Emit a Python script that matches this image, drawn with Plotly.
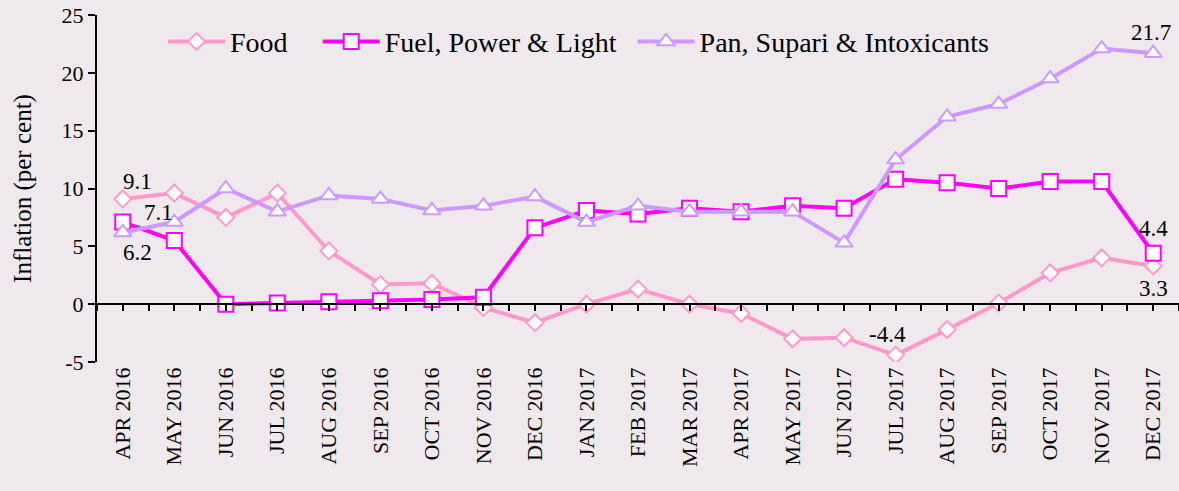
import plotly.graph_objects as go

months = [
    "APR 2016", "MAY 2016", "JUN 2016", "JUL 2016", "AUG 2016", "SEP 2016",
    "OCT 2016", "NOV 2016", "DEC 2016", "JAN 2017", "FEB 2017", "MAR 2017",
    "APR 2017", "MAY 2017", "JUN 2017", "JUL 2017", "AUG 2017", "SEP 2017",
    "OCT 2017", "NOV 2017", "DEC 2017",
]
food = [9.1, 9.6, 7.5, 9.6, 4.6, 1.7, 1.8, -0.3, -1.6, 0.0, 1.3, 0.0,
        -0.8, -3.0, -2.9, -4.4, -2.2, 0.1, 2.7, 4.0, 3.3]
fuel = [7.1, 5.5, 0.0, 0.1, 0.2, 0.3, 0.4, 0.6, 6.6, 8.1, 7.8, 8.3,
        8.0, 8.5, 8.3, 10.8, 10.5, 10.0, 10.6, 10.6, 4.4]
pan = [6.2, 7.1, 10.0, 8.0, 9.4, 9.1, 8.1, 8.5, 9.3, 7.1, 8.5, 8.0,
       8.0, 8.0, 5.3, 12.5, 16.2, 17.3, 19.5, 22.1, 21.7]
y_ticks = [-5, 0, 5, 10, 15, 20, 25]
y_tick_text = ["-5", "0", "5", "10", "15", "20", "25"]

FONT = "Liberation Serif"
BG = "#EFE8EC"

fig = go.Figure()

# one legend per series so each entry can sit where the original puts it
series = [
    ("Food", food, "#FF99CC", "diamond", 13, "legend", 0.061),
    ("Fuel, Power & Light", fuel, "#FF00FF", "square", 15, "legend2", 0.204),
    ("Pan, Supari & Intoxicants", pan, "#CC99FF", "triangle-up", 15, "legend3", 0.495),
]
legend_cfg = {}
for name, vals, color, symbol, size, leg, lx in series:
    fig.add_trace(go.Scatter(
        x=months, y=vals, name=name, mode="lines+markers", legend=leg,
        line=dict(color=color, width=4),
        marker=dict(symbol=symbol, size=size, color="white",
                    line=dict(color=color, width=2)),
    ))
    legend_cfg[leg] = dict(
        orientation="h", x=lx, y=0.995, xanchor="left", yanchor="top",
        bgcolor="rgba(0,0,0,0)", font=dict(family=FONT, size=28),
        itemwidth=57,
    )

# invisible trace for the axis drawn through zero (ticks every half month)
fig.add_trace(go.Scatter(x=list(range(len(months))), y=[0] * len(months),
                         xaxis="x2", mode="markers", marker=dict(opacity=0),
                         showlegend=False, hoverinfo="skip"))

labels = [
    (0, food[0], "9.1", 15, 17),
    (0, fuel[0], "7.1", 36, 10),
    (0, pan[0], "6.2", 15, -20),
    (20, pan[20], "21.7", -2, 21),
    (20, fuel[20], "4.4", 0, 25),
    (20, food[20], "3.3", 0, -22),
    (15, food[15], "-4.4", -8, 21),
]
for i, v, txt, dx, dy in labels:
    fig.add_annotation(x=months[i], y=v, text=txt, showarrow=False,
                       xshift=dx, yshift=dy,
                       font=dict(family=FONT, size=23, color="black"))

fig.update_layout(
    width=1179, height=491,
    margin=dict(l=97, r=0, t=15, b=129),
    paper_bgcolor=BG, plot_bgcolor=BG,
    font=dict(family=FONT, color="black"),
    showlegend=True,
    **legend_cfg,
    xaxis=dict(
        type="category", range=[-0.5, 20.5], showline=False, showgrid=False,
        zeroline=False, ticks="", tickangle=-90, automargin=False,
        tickfont=dict(family=FONT, size=22),
    ),
    xaxis2=dict(
        range=[-0.5, 20.5], overlaying="x", anchor="free",
        position=5 / 30, showline=True, linecolor="black", linewidth=2,
        tickmode="linear", tick0=-0.5, dtick=0.5,
        ticks="outside", ticklen=6, tickwidth=1.5,
        tickcolor="black", showticklabels=False, showgrid=False,
        zeroline=False, automargin=False,
    ),
    yaxis=dict(
        range=[-5, 25], tickvals=y_ticks, ticktext=y_tick_text,
        showgrid=False, zeroline=False,
        showline=True, linecolor="black", linewidth=2, automargin=False,
        ticks="outside", ticklen=7, tickwidth=1.5, tickcolor="black",
        tickfont=dict(family=FONT, size=22),
        title=dict(text="Inflation (per cent)", font=dict(family=FONT, size=25),
                   standoff=23),
    ),
)

fig.write_html("out.html", config={"displayModeBar": False},
               post_script="document.body.style.margin='0';")
